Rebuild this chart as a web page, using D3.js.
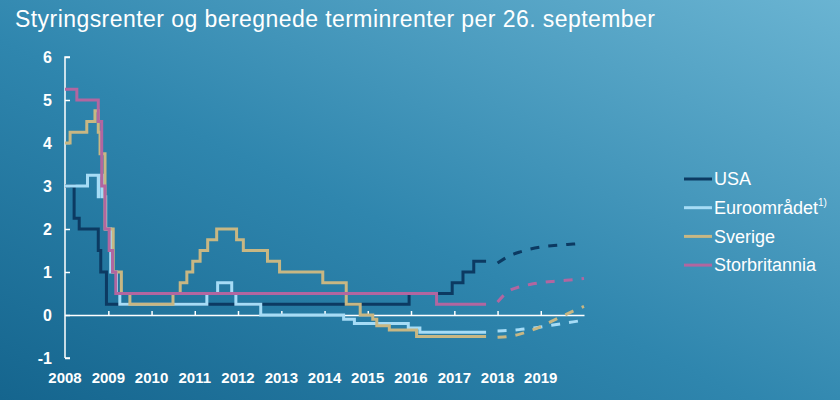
<!DOCTYPE html>
<html>
<head>
<meta charset="utf-8">
<script src="https://cdn.jsdelivr.net/npm/d3@7"></script>
<style>
  body { margin: 0; background: #2b80a8; }
  svg { display: block; font-family: "Liberation Sans", Arial, sans-serif; }
</style>
</head>
<body>
<div id="chart"></div>
<script>
// policy rates, change dates (step after)
const usaDates = ["2008-01-01","2008-03-18","2008-04-30","2008-10-08","2008-10-29","2008-12-16","2015-12-16","2016-12-14","2017-03-15","2017-06-14","2017-09-26"];
const usaRates = [3.0, 2.25, 2.0, 1.5, 1.0, 0.25, 0.5, 0.75, 1.0, 1.25, 1.25];

const euroDates = ["2008-01-01","2008-07-09","2008-10-08","2008-10-15","2008-11-12","2008-12-10","2009-01-21","2009-03-11","2009-04-08","2011-04-13","2011-07-13","2011-11-09","2011-12-14","2012-07-11","2014-06-11","2014-09-10","2015-12-09","2016-03-16","2017-09-26"];
const euroRates = [3.0, 3.25, 2.75, 3.25, 2.75, 2.0, 1.0, 0.5, 0.25, 0.5, 0.75, 0.5, 0.25, 0.0, -0.1, -0.2, -0.3, -0.4, -0.4];

const sweDates = ["2008-01-01","2008-02-13","2008-07-03","2008-09-10","2008-10-08","2008-10-23","2008-12-04","2009-02-11","2009-04-21","2009-07-02","2010-07-01","2010-08-31","2010-10-26","2010-12-15","2011-02-15","2011-04-20","2011-07-05","2011-12-20","2012-02-15","2012-09-06","2012-12-17","2013-12-17","2014-07-03","2014-10-29","2015-02-12","2015-03-18","2015-07-02","2016-02-17","2017-09-26"];
const sweRates = [4.0, 4.25, 4.5, 4.75, 4.25, 3.75, 2.0, 1.0, 0.5, 0.25, 0.5, 0.75, 1.0, 1.25, 1.5, 1.75, 2.0, 1.75, 1.5, 1.25, 1.0, 0.75, 0.25, 0.0, -0.1, -0.25, -0.35, -0.5, -0.5];

const ukDates = ["2008-01-01","2008-04-10","2008-10-08","2008-11-06","2008-12-04","2009-01-08","2009-02-05","2009-03-05","2016-08-04","2017-09-26"];
const ukRates = [5.25, 5.0, 4.5, 3.0, 2.0, 1.5, 1.0, 0.5, 0.25, 0.25];

// forward rates (dashed)
const fwdDates = ["2018-01-01","2018-04-01","2018-07-01","2018-10-01","2019-01-01","2019-04-01","2019-07-01","2019-10-01","2020-01-01"];
const usaFwd  = [1.21, 1.36, 1.46, 1.53, 1.58, 1.61, 1.63, 1.65, 1.67];
const euroFwd = [-0.37, -0.36, -0.34, -0.31, -0.28, -0.24, -0.2, -0.16, -0.12];
const sweFwd  = [-0.52, -0.5, -0.45, -0.37, -0.27, -0.15, -0.03, 0.09, 0.2];
const ukFwd   = [0.3, 0.55, 0.65, 0.71, 0.75, 0.78, 0.8, 0.82, 0.85];

const seriesNames = ["USA", "Euroområdet", "Sverige", "Storbritannia"];
const seriesColors = ["#0c3a62", "#a6dcf6", "#c8b783", "#b266a0"];
const yTicks = [-1, 0, 1, 2, 3, 4, 5, 6];
const xYears = [2008, 2009, 2010, 2011, 2012, 2013, 2014, 2015, 2016, 2017, 2018, 2019];

const width = 840, height = 400;
const parse = d3.timeParse("%Y-%m-%d");

const svg = d3.select("#chart").append("svg")
  .attr("width", width)
  .attr("height", height);

// background gradient
const grad = svg.append("defs").append("linearGradient")
  .attr("id", "bg")
  .attr("x1", 0).attr("y1", 1).attr("x2", 1).attr("y2", 0);
grad.append("stop").attr("offset", "0%").attr("stop-color", "#15658e");
grad.append("stop").attr("offset", "45%").attr("stop-color", "#2f86ae");
grad.append("stop").attr("offset", "100%").attr("stop-color", "#6ab4d2");
svg.append("rect").attr("width", width).attr("height", height).attr("fill", "url(#bg)");

svg.append("text")
  .attr("x", 15).attr("y", 27)
  .attr("fill", "#fff")
  .attr("font-size", 23)
  .attr("textLength", 640)
  .attr("lengthAdjust", "spacing")
  .text("Styringsrenter og beregnede terminrenter per 26. september");

const x = d3.scaleTime()
  .domain([new Date(2008, 0, 1), new Date(2020, 0, 1)])
  .range([65, 584]);
const y = d3.scaleLinear()
  .domain([-1, 6])
  .range([358, 57]);

// y axis
const yAxis = svg.append("g")
  .attr("transform", `translate(${x.range()[0]},0)`)
  .call(d3.axisRight(y).tickValues(yTicks).tickSize(5).tickFormat(""));
yAxis.select(".domain").attr("stroke", "#fff").attr("stroke-width", 1.5).attr("d", `M0,${y(-1)}H5M0,${y(-1)}V${y(6)}H5`);
yAxis.selectAll(".tick line").attr("stroke", "#fff").attr("stroke-width", 1.5);

svg.append("g").selectAll("text")
  .data(yTicks)
  .join("text")
  .attr("x", 52)
  .attr("y", d => y(d))
  .attr("dy", "0.36em")
  .attr("text-anchor", "end")
  .attr("fill", "#fff")
  .attr("font-size", 16)
  .attr("font-weight", "bold")
  .text(d => d);

// x axis on zero line
const xAxis = svg.append("g")
  .attr("transform", `translate(0,${y(0)})`)
  .call(d3.axisTop(x)
    .tickValues(xYears.slice(1).map(yr => new Date(yr, 0, 1)))
    .tickSize(4).tickSizeOuter(0).tickFormat(""));
xAxis.select(".domain").attr("stroke", "#fff").attr("stroke-width", 1.5);
xAxis.selectAll(".tick line").attr("stroke", "#fff").attr("stroke-width", 1.5);

svg.append("g").selectAll("text")
  .data(xYears)
  .join("text")
  .attr("x", d => x(new Date(d, 0, 1)))
  .attr("y", 383)
  .attr("text-anchor", "middle")
  .attr("fill", "#fff")
  .attr("font-size", 15)
  .attr("font-weight", "bold")
  .text(d => d);

// lines
const stepLine = d3.line()
  .x(d => x(d.date))
  .y(d => y(d.value))
  .curve(d3.curveStepAfter);
const fwdLine = d3.line()
  .x(d => x(d.date))
  .y(d => y(d.value))
  .curve(d3.curveMonotoneX);

const hist = [[usaDates, usaRates], [euroDates, euroRates], [sweDates, sweRates], [ukDates, ukRates]];
const fwd = [usaFwd, euroFwd, sweFwd, ukFwd];

hist.forEach((s, i) => {
  const pts = s[0].map((d, j) => ({date: parse(d), value: s[1][j]}));
  svg.append("path")
    .datum(pts)
    .attr("fill", "none")
    .attr("stroke", seriesColors[i])
    .attr("stroke-width", 3)
    .attr("d", stepLine);
});

fwd.forEach((vals, i) => {
  const pts = fwdDates.map((d, j) => ({date: parse(d), value: vals[j]}));
  svg.append("path")
    .datum(pts)
    .attr("fill", "none")
    .attr("stroke", seriesColors[i])
    .attr("stroke-width", 3)
    .attr("stroke-dasharray", "9,9")
    .attr("d", fwdLine);
});

// legend
const legend = svg.append("g").attr("transform", "translate(684,179)");
seriesNames.forEach((name, i) => {
  const g = legend.append("g").attr("transform", `translate(0,${i * 28.7})`);
  g.append("line")
    .attr("x1", 0).attr("x2", 28)
    .attr("stroke", seriesColors[i]).attr("stroke-width", 3);
  const t = g.append("text")
    .attr("x", 30).attr("dy", "0.35em")
    .attr("fill", "#fff")
    .attr("font-size", 18)
    .text(name);
  if (i === 1) {
    t.append("tspan").attr("font-size", 10).attr("dy", "-0.8em").text("1)");
  }
});
</script>
</body>
</html>
